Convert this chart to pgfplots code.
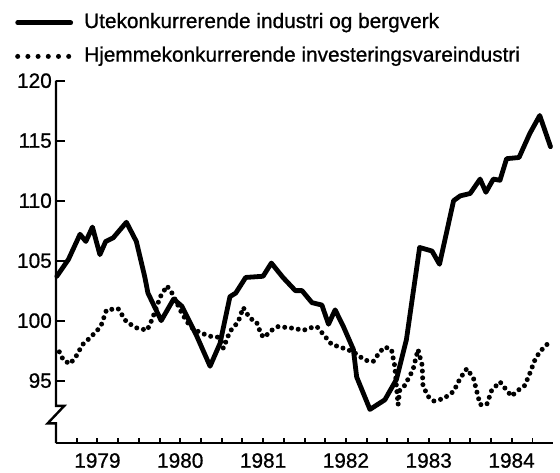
\documentclass[border=0pt]{standalone}
\usepackage{fontspec}
\setmainfont{Liberation Sans}[FakeBold=0.8]
\usepackage{pgfplots}
\pgfplotsset{compat=1.18}
\begin{document}
\begin{tikzpicture}
\useasboundingbox (0,0) rectangle (560pt,-472pt);
\begin{axis}[
  scale only axis, width=497pt, height=362.3pt,
  anchor=south west, at={(56pt,-443pt)},
  xmin=1979, xmax=1985, ymin=89.8, ymax=120,
  axis x line*=bottom, axis y line*=left,
  y axis line style={draw=none},
  x axis line style={line width=2.6pt, black},
  xtick={1979,1980,...,1985},
  xticklabels={1979,1980,1981,1982,1983,1984},
  x tick label as interval,
  every major x tick/.append style={draw=none},
  minor xtick={1979,1979.25,...,1985},
  ytick={95,100,...,120},
  tick align=inside,
  major tick length=9pt, minor tick length=5pt,
  every tick/.style={line width=1.9pt, black},
  /pgf/number format/assume math mode=true,
  tick label style={font=\fontsize{20.8}{24}\selectfont},
  xticklabel style={inner sep=0pt, yshift=-10pt},
  yticklabel style={inner sep=0pt, xshift=-4pt},
  clip=false,
  legend cell align=left,
  legend style={at={(axis description cs:-0.0825,1.1874)}, anchor=north west,
    draw=none, fill=none, inner sep=0pt, column sep=11pt, row sep=14pt,
    font=\fontsize{20.8}{24}\selectfont,
    nodes={inner sep=0pt, text height=15pt, text depth=4.6pt}},
]
\addplot[black, line width=4.8pt, line join=round, line cap=round,
  legend image code/.code={\draw[line width=4.8pt] (0pt,0pt) -- (53pt,0pt);}]
coordinates {
(1979.01,103.7) (1979.15,105.1) (1979.29,107.2) (1979.36,106.6) (1979.44,107.8)
(1979.53,105.5) (1979.60,106.6) (1979.69,106.9) (1979.85,108.2) (1979.97,106.6)
(1980.07,103.7) (1980.11,102.3) (1980.27,100.0) (1980.42,101.8) (1980.52,101.2)
(1980.70,98.7) (1980.86,96.2) (1980.98,98.1) (1981.10,102.0) (1981.17,102.3)
(1981.29,103.6) (1981.50,103.7) (1981.60,104.8) (1981.74,103.6) (1981.89,102.5)
(1981.97,102.5) (1982.09,101.5) (1982.21,101.3) (1982.29,99.7) (1982.37,100.9)
(1982.47,99.5) (1982.59,97.6) (1982.63,95.3) (1982.79,92.6) (1982.97,93.4)
(1983.11,95.1) (1983.23,98.4) (1983.39,106.1) (1983.54,105.8) (1983.63,104.7)
(1983.80,110.0) (1983.88,110.4) (1984.00,110.6) (1984.12,111.8) (1984.19,110.7)
(1984.28,111.8) (1984.36,111.7) (1984.44,113.5) (1984.59,113.6) (1984.72,115.6)
(1984.84,117.1) (1984.97,114.5)
};
\addlegendentry{Utekonkurrerende industri og bergverk}
\addplot[black, line width=5pt, line cap=round, dash pattern=on 0pt off 6.8pt,
  legend image code/.code={\draw[line width=5pt, line cap=round, dash pattern=on 0pt off 10.2pt] (0pt,0pt) -- (53pt,0pt);}]
coordinates {
(1979.04,97.4) (1979.09,96.7) (1979.17,96.4) (1979.24,97.0) (1979.32,98.0)
(1979.40,98.5) (1979.50,99.2) (1979.55,99.7) (1979.61,100.9) (1979.75,101.0)
(1979.85,99.9) (1979.97,99.4) (1980.10,99.2) (1980.16,100.1) (1980.26,102.0)
(1980.34,102.9) (1980.40,102.3) (1980.52,100.6) (1980.62,99.5) (1980.74,99.0)
(1980.86,98.7) (1980.98,98.6) (1981.02,97.7) (1981.10,99.1) (1981.20,99.9)
(1981.26,101.1) (1981.34,100.2) (1981.42,99.9) (1981.48,98.8) (1981.52,98.6)
(1981.58,99.1) (1981.68,99.5) (1981.83,99.4) (1981.99,99.2) (1982.07,99.4)
(1982.15,99.5) (1982.21,99.0) (1982.33,98.0) (1982.43,97.8) (1982.59,97.4)
(1982.73,96.7) (1982.83,96.6) (1982.91,97.4) (1982.97,97.8) (1983.05,97.6)
(1983.09,96.2) (1983.11,94.5) (1983.13,93.0) (1983.15,94.2) (1983.21,94.6)
(1983.31,95.9) (1983.37,97.6) (1983.42,96.3) (1983.43,94.6) (1983.49,93.7)
(1983.56,93.3) (1983.68,93.5) (1983.80,94.1) (1983.88,95.2) (1983.96,96.0)
(1984.04,95.2) (1984.08,94.1) (1984.12,93.0) (1984.20,93.0) (1984.26,94.2)
(1984.36,94.9) (1984.44,94.2) (1984.50,93.7) (1984.56,94.1) (1984.66,94.6)
(1984.72,95.6) (1984.78,96.7) (1984.84,97.4) (1984.94,98.1)
};
\addlegendentry{Hjemmekonkurrerende investeringsvareindustri}
\draw[line width=2.4pt, line join=miter] (axis cs:1979,120) -- (axis cs:1979,92.9)
  -- ++(8.3pt,0pt) -- ++(-16.7pt,-17.6pt) -- ++(8.4pt,0pt) -- (axis cs:1979,89.8);
\end{axis}
\end{tikzpicture}
\end{document}
